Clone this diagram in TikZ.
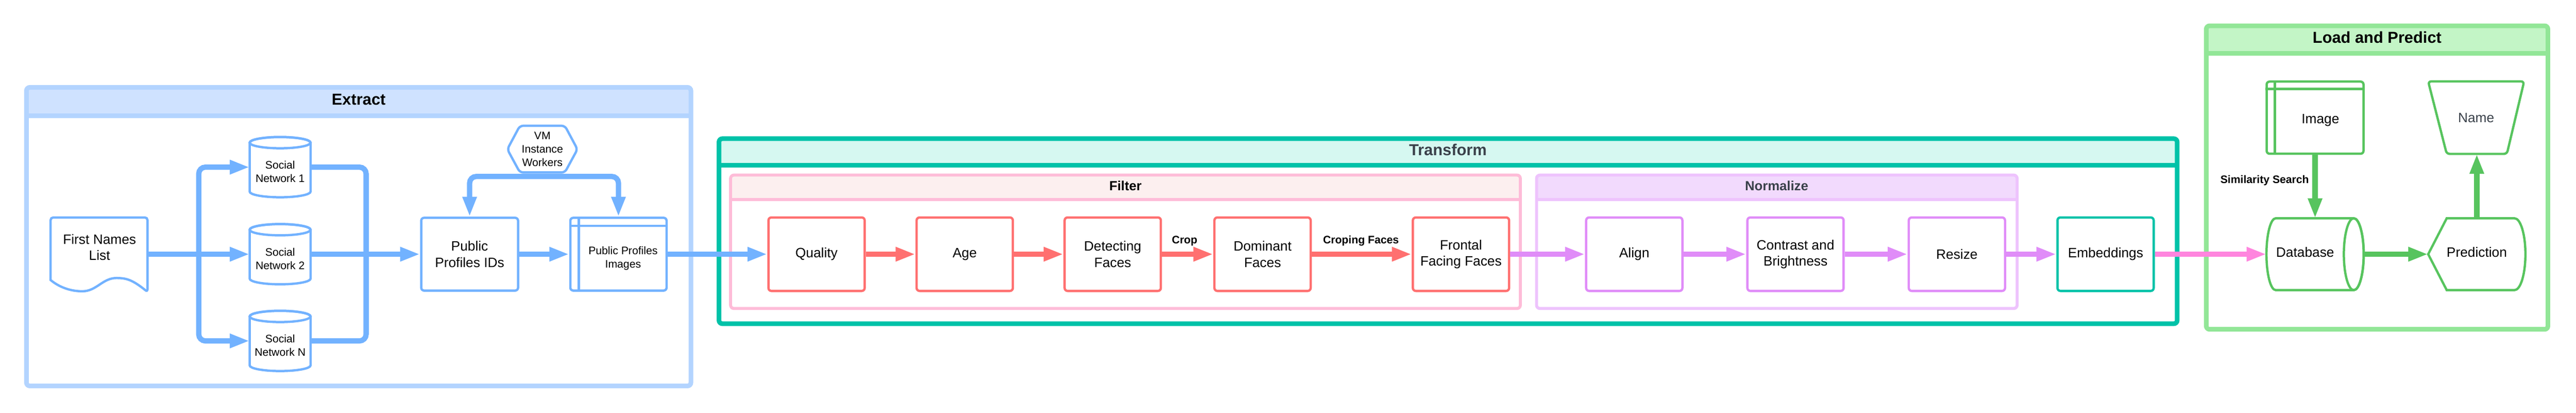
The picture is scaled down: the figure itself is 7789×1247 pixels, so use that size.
\documentclass[tikz,border=0pt]{standalone}
\usepackage{fontspec}
\setmainfont{Liberation Sans}
\usetikzlibrary{arrows.meta}
\definecolor{extB}{HTML}{B3D4FF}
\definecolor{extF}{HTML}{CFE2FF}
\definecolor{blu}{HTML}{72B2FF}
\definecolor{tealc}{HTML}{00C2A8}
\definecolor{tealF}{HTML}{D6F8F1}
\definecolor{filB}{HTML}{FEBCD8}
\definecolor{filF}{HTML}{FCEFEF}
\definecolor{redc}{HTML}{FF7070}
\definecolor{norB}{HTML}{EEC3FD}
\definecolor{norF}{HTML}{F2DAFD}
\definecolor{purc}{HTML}{E08CF8}
\definecolor{pinkc}{HTML}{FF85DE}
\definecolor{lpB}{HTML}{92E697}
\definecolor{lpF}{HTML}{C3F5C6}
\definecolor{grn}{HTML}{57C45E}
\definecolor{darkt}{HTML}{3A414A}
\newcommand\fbody{\fontsize{41}{49}\selectfont}
\newcommand\fsmall{\fontsize{33}{40}\selectfont}
\newcommand\ftitle{\fontsize{48}{56}\selectfont\bfseries}
\newcommand\fsub{\fontsize{40}{48}\selectfont\bfseries}
\newcommand\flab{\fontsize{33}{40}\selectfont\bfseries}
\newcommand\mycontainer[8]{%
  \fill[white, rounded corners=10pt] (#1,#2) rectangle (#3,#4);
  \fill[#7, rounded corners=10pt] (#1,#2) rectangle (#3,#5);
  \draw[#6, line width=#8] (#1,#5) -- (#3,#5);
  \draw[#6, line width=#8, rounded corners=10pt] (#1,#2) rectangle (#3,#4);
}
\newcommand\vcyl[3]{%
  \filldraw[blu, fill=white, line width=7pt] (#1-92,#2+17) -- (#1-92,#3-17)
    arc[start angle=180,end angle=360,x radius=92pt,y radius=17pt] -- (#1+92,#2+17)
    arc[start angle=0,end angle=180,x radius=92pt,y radius=17pt] -- cycle;
  \draw[blu, line width=7pt] (#1,#2+17) ellipse[x radius=92pt, y radius=17pt];
}
\tikzset{
  stage/.style={draw=#1, line width=7pt, rounded corners=9pt, fill=white,
    minimum width=291pt, minimum height=222pt, inner sep=0pt, align=center, font=\fbody},
  arrw/.style={draw=#1, line width=16pt, -{Triangle[length=60pt,width=40pt]}},
  lnw/.style={draw=#1, line width=16pt},
  txt/.style={align=center, font=\fbody, inner sep=0pt},
}
\begin{document}
\begin{tikzpicture}[x=1pt,y=-1pt]
\useasboundingbox (0,0) rectangle (7789,1247);

% ---------- containers ----------
\mycontainer{80}{264}{2089}{1166}{350}{extB}{extF}{14pt}
\mycontainer{2174}{419}{6583}{978}{500}{tealc}{tealF}{14pt}
\mycontainer{2209}{529}{4597}{932}{603}{filB}{filF}{9pt}
\mycontainer{4646}{529}{6099}{932}{603}{norB}{norF}{9pt}
\mycontainer{6671}{78}{7704}{995}{162}{lpB}{lpF}{14pt}

\node[font=\ftitle] (tExtract) at (1084.5,300) {Extract};
\node[font=\ftitle, text=darkt] (tTransform) at (4378,452) {Transform};
\node[font=\fsub] (tFilter) at (3403,561) {Filter};
\node[font=\fsub, text=darkt] (tNormalize) at (5372,561) {Normalize};
\node[font=\ftitle] (tLoad) at (7187.5,113) {Load and Predict};

% ---------- Extract ----------
\filldraw[blu, fill=white, line width=7pt] (446,882)
  .. controls (400,845) and (382,840) .. (352,840)
  .. controls (310,840) and (292,880) .. (249,880)
  .. controls (205,880) and (172,862) .. (153,846)
  [rounded corners=8pt] -- (153,657) -- (446,657) -- cycle;
\node[inner sep=0pt, minimum width=293pt, minimum height=225pt] (doc) at (299.5,768) {};
\node[txt] (doct) at (301,747) {First Names\\List};

\vcyl{847}{414}{596}
\vcyl{847}{677}{859}
\vcyl{847}{939}{1121}
\node[inner sep=0pt, minimum width=184pt, minimum height=182pt] (sn1) at (847,505) {};
\node[inner sep=0pt, minimum width=184pt, minimum height=182pt] (sn2) at (847,768) {};
\node[inner sep=0pt, minimum width=184pt, minimum height=182pt] (snN) at (847,1030) {};
\node[txt, font=\fsmall] (sn1t) at (847,519) {Social\\Network 1};
\node[txt, font=\fsmall] (sn2t) at (847,782) {Social\\Network 2};
\node[txt, font=\fsmall] (snNt) at (847,1044) {Social\\Network N};
\coordinate (busL) at (601,768);
\coordinate (busR) at (1107,768);

\node[stage=blu, minimum width=293pt, minimum height=220pt] (ids) at (1420,768) {Public\\Profiles IDs};
\node[stage=blu, minimum width=291pt, minimum height=220pt] (imgs) at (1870,768) {};
\draw[blu, line width=7pt] ([xshift=29pt]imgs.north west) -- ([xshift=29pt]imgs.south west);
\draw[blu, line width=7pt] ([yshift=-28pt]imgs.north west) -- ([yshift=-28pt]imgs.north east);
\node[txt, font=\fsmall] (imgst) at (1884,780) {Public Profiles\\Images};

\filldraw[blu, fill=white, line width=7pt, rounded corners=10pt]
  (1534,451) -- (1572,380) -- (1708,380) -- (1746,451) -- (1708,521) -- (1572,521) -- cycle;
\node[txt, font=\fsmall, minimum width=212pt, minimum height=141pt] (vm) at (1640,450.5) {VM\\Instance\\Workers};

\draw[arrw=blu] (doc.east) -- (sn2.west);
\draw[arrw=blu, rounded corners=20pt] (busL) |- (sn1.west);
\draw[arrw=blu, rounded corners=20pt] (busL) |- (snN.west);
\draw[lnw=blu, rounded corners=20pt] (sn1.east) -| (busR);
\draw[lnw=blu, rounded corners=20pt] (snN.east) -| (busR);
\draw[arrw=blu] (sn2.east) -- (ids.west);
\draw[arrw=blu] (ids.east) -- (imgs.west);
\draw[arrw=blu, rounded corners=20pt] ([yshift=-12pt]vm.south) -| (ids.north);
\draw[arrw=blu, rounded corners=20pt] ([yshift=-12pt]vm.south) -| (imgs.north);

% ---------- Transform ----------
\node[stage=redc] (quality) at (2469,768) {Quality};
\node[stage=redc] (age) at (2917,768) {Age};
\node[stage=redc] (detect) at (3364.5,768) {Detecting\\Faces};
\node[stage=redc] (dominant) at (3817.5,768) {Dominant\\Faces};
\node[stage=redc] (frontal) at (4417.5,768) {Frontal\\Facing Faces};
\node[stage=purc] (align) at (4941.5,768) {Align};
\node[stage=purc] (contrast) at (5429,768) {Contrast and\\Brightness};
\node[stage=purc] (resize) at (5917,768) {Resize};
\node[stage=tealc] (emb) at (6366.5,768) {Embeddings};

\draw[arrw=blu] (imgs.east) -- (quality.west);
\draw[arrw=redc] (quality.east) -- (age.west);
\draw[arrw=redc] (age.east) -- (detect.west);
\draw[arrw=redc] (detect.east) -- (dominant.west);
\draw[arrw=redc] (dominant.east) -- (frontal.west);
\node[font=\flab] (lcrop) at (3582,728) {Crop};
\node[font=\flab] (lcropf) at (4115,728) {Croping Faces};
\draw[arrw=purc] (frontal.east) -- (align.west);
\draw[arrw=purc] (align.east) -- (contrast.west);
\draw[arrw=purc] (contrast.east) -- (resize.west);
\draw[arrw=purc] (resize.east) -- (emb.west);

% ---------- Load and Predict ----------
\node[stage=grn, minimum width=293pt, minimum height=218pt] (img) at (7000,355.5) {};
\draw[grn, line width=7pt] ([xshift=28pt]img.north west) -- ([xshift=28pt]img.south west);
\draw[grn, line width=7pt] ([yshift=-26pt]img.north west) -- ([yshift=-26pt]img.north east);
\node[txt] (imgt) at (7016,363) {Image};

\filldraw[grn, fill=white, line width=7pt, rounded corners=9pt]
  (7342,246) -- (7632,246) -- (7580,465) -- (7398,465) -- cycle;
\node[txt, text=darkt, minimum width=290pt, minimum height=219pt] (name) at (7487,355.5) {Name};

\filldraw[grn, fill=white, line width=7pt] (6881,659.5) -- (7117,659.5)
  arc[start angle=90,end angle=-90,x radius=30pt,y radius=108.5pt] -- (6881,876.5)
  arc[start angle=270,end angle=90,x radius=28pt,y radius=108.5pt] -- cycle;
\draw[grn, line width=7pt] (7117,768) ellipse[x radius=30pt, y radius=108.5pt];
\node[inner sep=0pt, minimum width=294pt, minimum height=217pt] (db) at (7000,768) {};
\node[txt] (dbt) at (6970,762) {Database};

\filldraw[grn, fill=white, line width=7pt] (7342,768) -- (7398,659.5) -- (7603,659.5)
  arc[start angle=90,end angle=-90,x radius=33pt,y radius=108.5pt] -- (7398,876.5) -- cycle;
\node[inner sep=0pt, minimum width=294pt, minimum height=217pt] (pred) at (7489,768) {};
\node[txt] (predt) at (7489,762) {Prediction};

\draw[arrw=pinkc] (emb.east) -- (db.west);
\draw[arrw=grn] (img.south) -- (db.north);
\node[font=\flab, anchor=east] (lsim) at (6985,545) {Similarity Search};
\draw[arrw=grn] (db.east) -- (pred.west);
\draw[arrw=grn] (pred.north) -- (pred.north |- name.south);
\end{tikzpicture}
\end{document}
